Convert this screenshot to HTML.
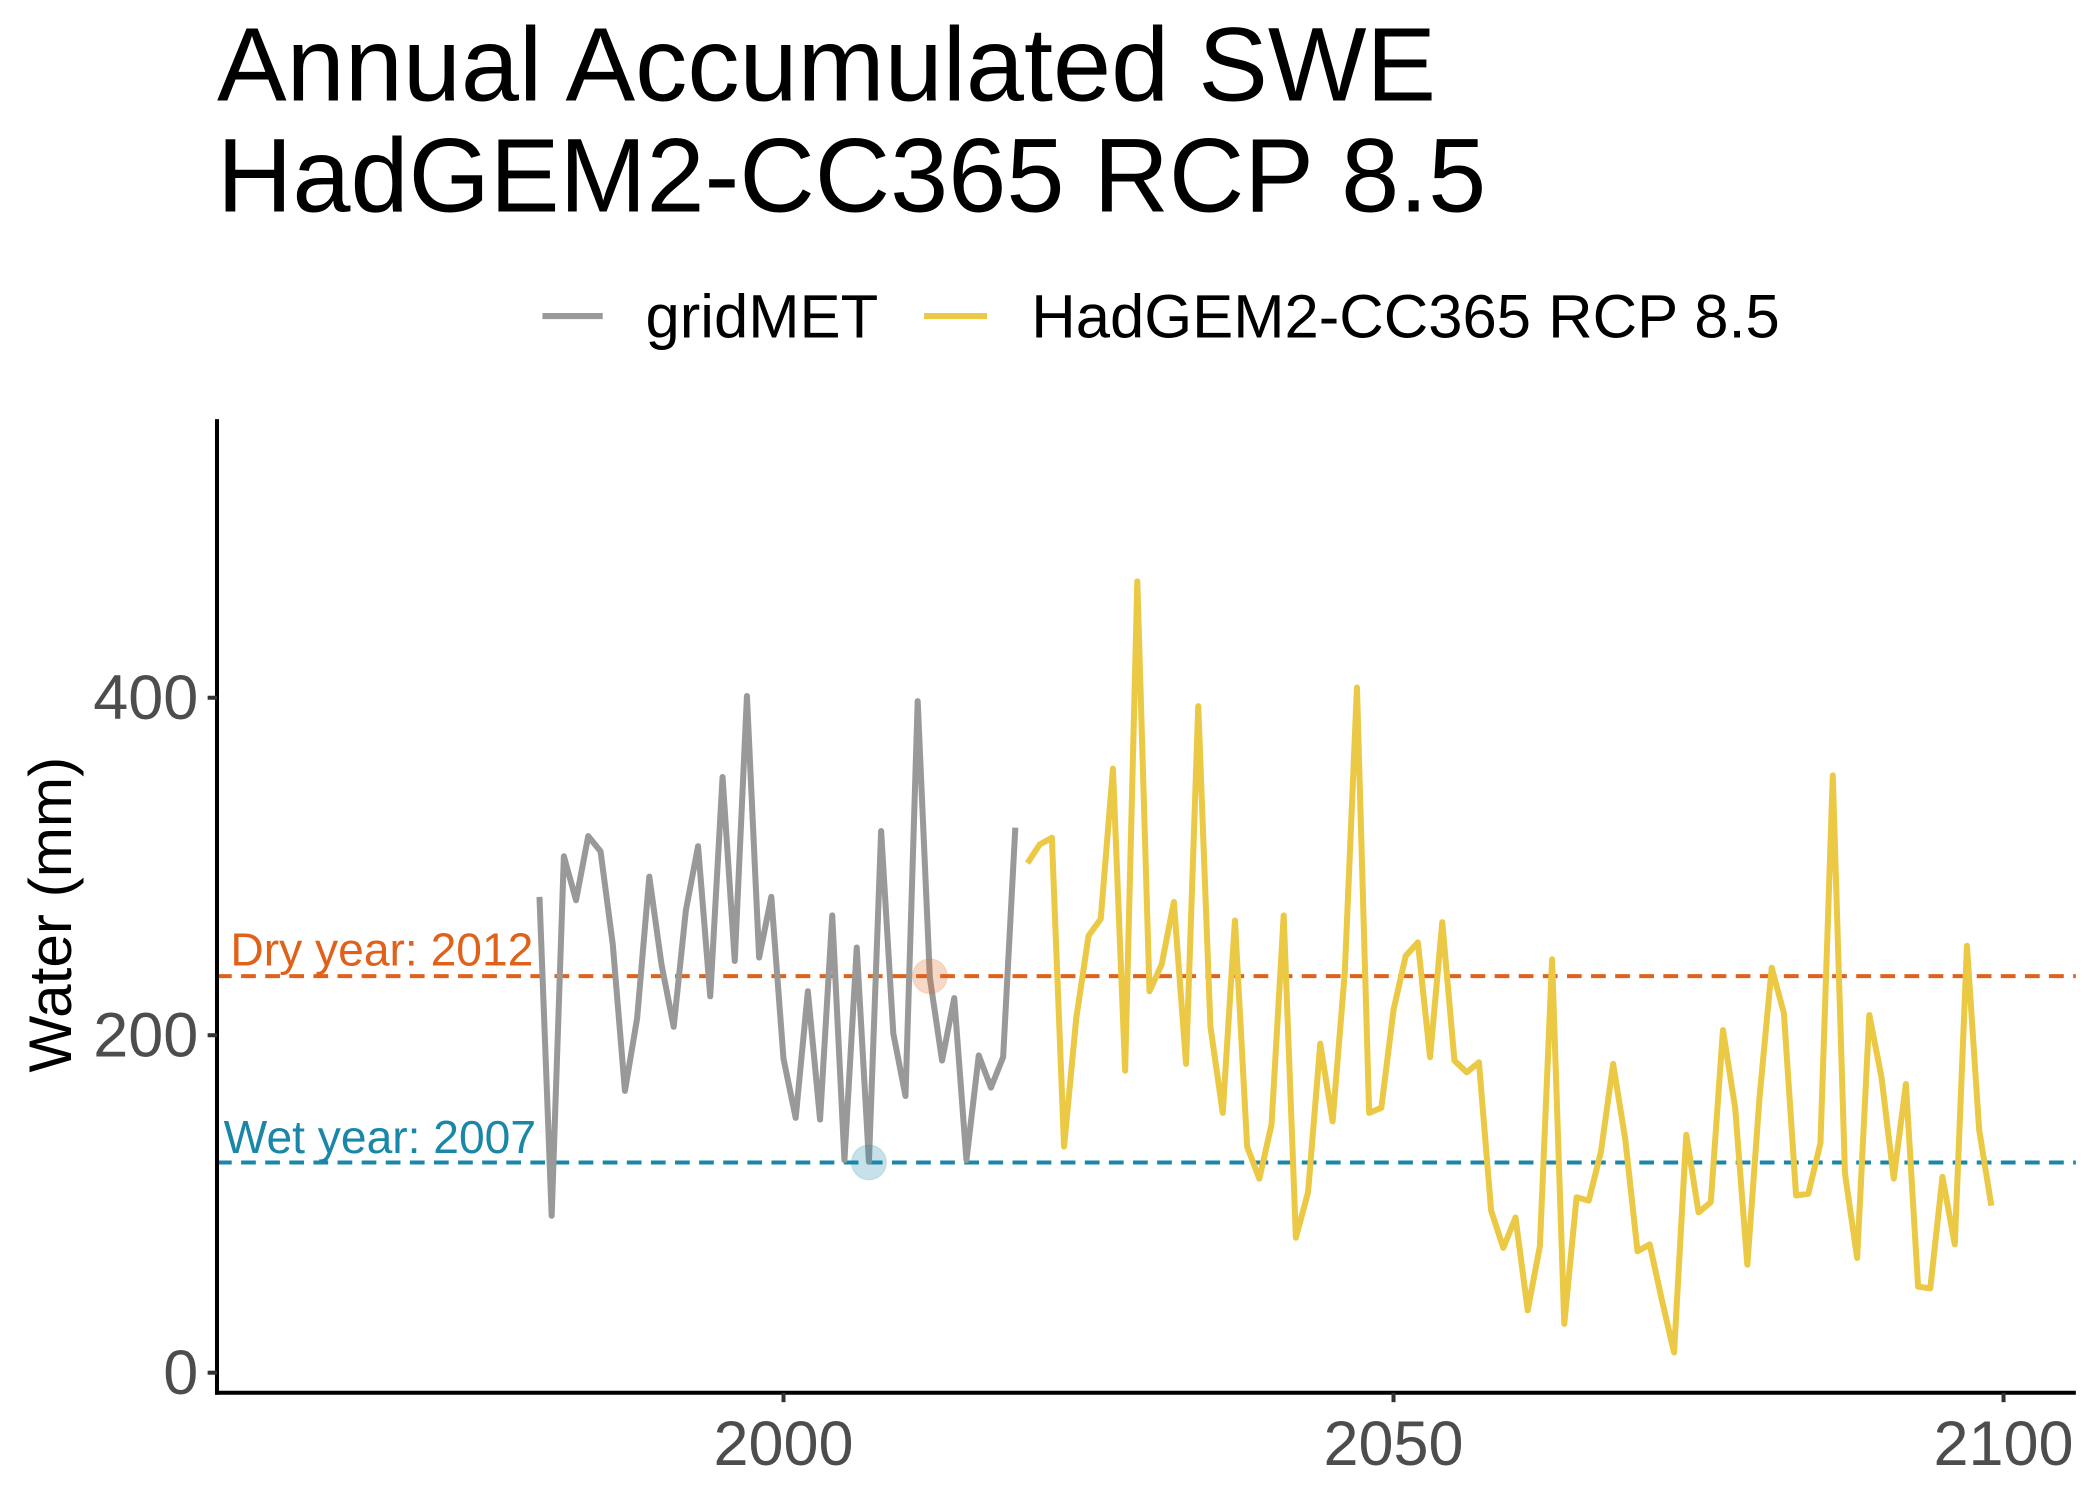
<!DOCTYPE html>
<html><head><meta charset="utf-8"><style>
html,body{margin:0;padding:0;background:#fff}
svg{display:block;font-family:"Liberation Sans",sans-serif}
</style></head><body>
<svg id="chart" width="2100" height="1499" viewBox="0 0 1568 1119.3" xmlns="http://www.w3.org/2000/svg">
<rect width="1568" height="1119.3" fill="#fff"/>
<text x="162" y="75" font-size="78" fill="#000">Annual Accumulated SWE</text>
<text x="162" y="158" font-size="78" fill="#000">HadGEM2-CC365 RCP 8.5</text>
<g>
<line x1="405" y1="236" x2="450" y2="236" stroke="#999" stroke-width="4.5"/>
<text x="482" y="252" font-size="46" fill="#000">gridMET</text>
<line x1="690" y1="236" x2="737" y2="236" stroke="#EBC944" stroke-width="4.5"/>
<text x="770" y="252" font-size="46" fill="#000">HadGEM2-CC365 RCP 8.5</text>
</g>
<text transform="translate(53,683) rotate(-90)" text-anchor="middle" font-size="45" fill="#000">Water (mm)</text>
<g id="plot"></g>
</svg>
<script>
const gridYears = [1980,1981,1982,1983,1984,1985,1986,1987,1988,1989,1990,1991,1992,1993,1994,1995,1996,1997,1998,1999,2000,2001,2002,2003,2004,2005,2006,2007,2008,2009,2010,2011,2012,2013,2014,2015,2016,2017,2018,2019];
const gridValues = [282,93,306,280,318,309,254,167,210,294,242,205,274,312,223,353,244,401,246,282,186,151,226,150,271,126,252,125,321,201,164,398,234,185,222,126,188,169,187,323];
const hadStartYear = 2020;
const hadValues = [302,313,317,134,210,259,269,358,179,469,226,242,279,183,395,205,154,268,134,115,147,271,80,107,195,149,237,406,154,157,215,247,255,187,267,185,178,184,96,74,92,37,75,245,29,104,102,131,183,138,72,76,43,12,141,95,101,203,157,64,163,240,213,105,106,136,354,118,68,212,175,115,171,51,50,116,76,253,144,99];
const yTicks = [0,200,400];
const xTicks = [2000,2050,2100];
const dryYear = 2012, dryValue = 235;
const wetYear = 2007, wetValue = 124.6;

const NS = "http://www.w3.org/2000/svg";
const X0 = 162, X1 = 1550, Y0 = 313, YB = 1040;
function xs(yr){ return 585 + (yr - 2000) * 9.11; }
function ys(v){ return 1025 - v * 1.26; }
const g = document.getElementById('plot');
function mk(tag, attrs, parent){ const e = document.createElementNS(NS, tag); for (const k in attrs) e.setAttribute(k, attrs[k]); (parent||g).appendChild(e); return e; }

let l = mk('line',{x1:X0,x2:X1,y1:ys(dryValue),y2:ys(dryValue),stroke:'#E0621A','stroke-width':3,'stroke-dasharray':'11 7'});


l = mk('line',{x1:X0,x2:X1,y1:ys(wetValue),y2:ys(wetValue),stroke:'#1A87A8','stroke-width':3,'stroke-dasharray':'11 7'});


let t = mk('text',{x:172,y:ys(dryValue)-8,'font-size':34.5,fill:'#E0621A'});
t.textContent = 'Dry year: 2012';


t = mk('text',{x:167,y:ys(wetValue)-7,'font-size':34.5,fill:'#1A87A8'});
t.textContent = 'Wet year: 2007';



let pts = gridYears.map((y,i)=>xs(y).toFixed(1)+','+ys(gridValues[i]).toFixed(1)).join(' ');
let p = mk('polyline',{points:pts,fill:'none',stroke:'#999','stroke-width':4.5,'stroke-linejoin':'round'});


pts = hadValues.map((v,i)=>xs(hadStartYear+i).toFixed(1)+','+ys(v).toFixed(1)).join(' ');
p = mk('polyline',{points:pts,fill:'none',stroke:'#EBC944','stroke-width':4.5,'stroke-linejoin':'round'});



let c = mk('circle',{cx:xs(dryYear),cy:ys(dryValue),r:13,fill:'#E0621A','fill-opacity':0.25,stroke:'#E0621A','stroke-opacity':0.15});


c = mk('circle',{cx:xs(wetYear),cy:ys(wetValue),r:13,fill:'#1A87A8','fill-opacity':0.25,stroke:'#1A87A8','stroke-opacity':0.15});



l = mk('line',{x1:X0,x2:X0,y1:Y0,y2:YB+1.5,stroke:'#000','stroke-width':3});


l = mk('line',{x1:X0-1.5,x2:X1,y1:YB,y2:YB,stroke:'#000','stroke-width':3});


yTicks.forEach(v=>{
  const tk = mk('line',{x1:X0-7,x2:X0,y1:ys(v),y2:ys(v),stroke:'#333','stroke-width':3});
  
  
  const tl = mk('text',{x:148,y:ys(v)+16,'text-anchor':'end','font-size':47,fill:'#4D4D4D'});
  tl.textContent = v;
  
  
});
xTicks.forEach(v=>{
  const tk = mk('line',{x1:xs(v),x2:xs(v),y1:YB,y2:YB+7,stroke:'#333','stroke-width':3});
  
  
  const tl = mk('text',{x:xs(v),y:1094,'text-anchor':'middle','font-size':47,fill:'#4D4D4D'});
  tl.textContent = v;
  
  
});
</script>
</body></html>
